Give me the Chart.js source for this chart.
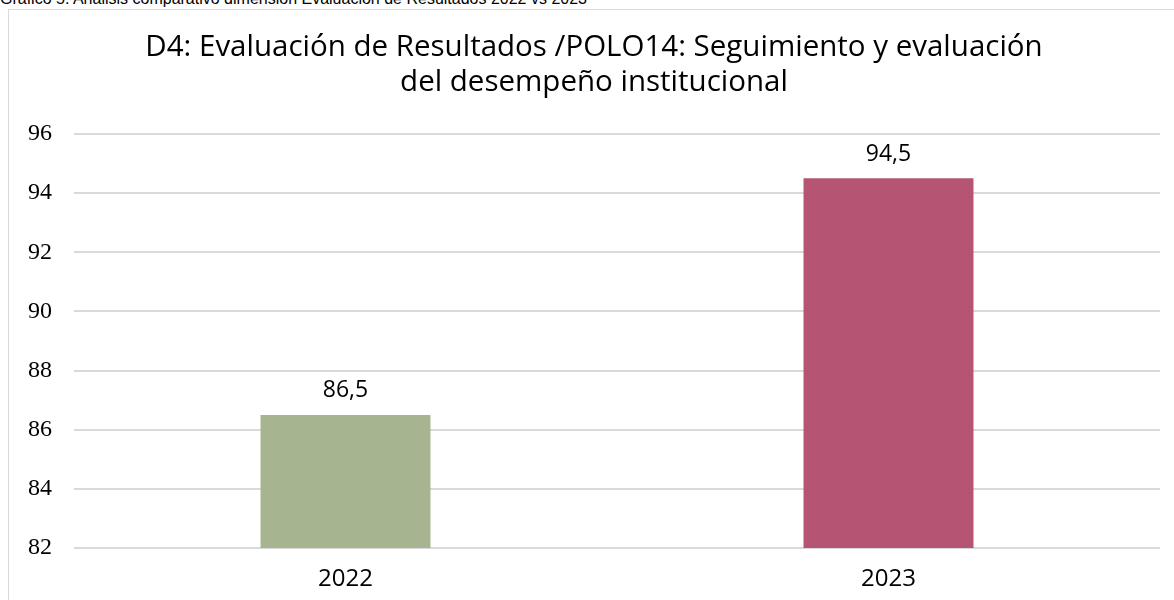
<!DOCTYPE html>
<html>
<head>
<meta charset="utf-8">
<script src="https://cdn.jsdelivr.net/npm/chart.js@4.4.1/dist/chart.umd.min.js"></script>
<style>
  html, body { margin: 0; padding: 0; background: #fff; overflow: hidden; }
  #caption {
    position: absolute; left: 0; top: -9px;
    font-family: "Liberation Sans", Arial, sans-serif; font-size: 16px; line-height: 16px;
    color: #000; white-space: nowrap;
  }
  #frame {
    position: absolute; left: 8px; top: 9px; width: 1180px; height: 620px;
    border: 1px solid #d9d9d9; box-sizing: border-box;
  }
  #wrap { position: absolute; left: 0; top: 0; width: 1174px; height: 600px; }
</style>
</head>
<body>
<div id="caption">Gráfico 5. Análisis comparativo dimensión Evaluación de Resultados 2022 vs 2023</div>
<div id="frame"></div>
<div id="wrap"><canvas id="c" width="1174" height="600"></canvas></div>
<script>
// Puntaje por año de la dimensión D4
const years = ['2022', '2023'];
const scores = [86.5, 94.5];
const barColors = ['#a6b490', '#b55573'];
const chartTitle = ['D4: Evaluación de Resultados /POLO14: Seguimiento y evaluación', 'del desempeño institucional'];
const yMin = 82, yMax = 96, yStep = 2;

// Etiqueta con el valor encima de cada barra (coma decimal)
const valueLabels = {
  id: 'valueLabels',
  afterDatasetsDraw(chart) {
    const ctx = chart.ctx;
    const meta = chart.getDatasetMeta(0);
    ctx.save();
    ctx.font = '23px "Open Sans", sans-serif';
    ctx.fillStyle = '#000';
    ctx.textAlign = 'center';
    ctx.textBaseline = 'middle';
    meta.data.forEach((bar, i) => {
      const txt = scores[i].toLocaleString('es-ES', { minimumFractionDigits: 1 });
      ctx.fillText(txt, bar.x, bar.y - 24);
    });
    ctx.restore();
  }
};

new Chart(document.getElementById('c'), {
  type: 'bar',
  data: {
    labels: years,
    datasets: [{
      data: scores,
      backgroundColor: barColors,
      categoryPercentage: 1,
      barPercentage: 0.313
    }]
  },
  options: {
    responsive: false,
    animation: false,
    layout: { padding: { top: 30, right: 14, bottom: 0, left: 28 } },
    plugins: {
      legend: { display: false },
      tooltip: { enabled: false },
      title: {
        display: true,
        text: chartTitle,
        color: '#000',
        font: { family: '"Open Sans", sans-serif', size: 29.5, weight: 'normal', lineHeight: 1.186 },
        padding: { top: 0, bottom: 34 }
      }
    },
    scales: {
      x: {
        afterFit(scale) { scale.height = 52; },
        grid: { display: false },
        border: { display: false },
        ticks: { color: '#000', font: { family: '"Open Sans", sans-serif', size: 24 }, padding: 9 }
      },
      y: {
        min: yMin, max: yMax,
        afterFit(scale) { scale.width = 46; },
        grid: { color: '#d9d9d9', lineWidth: 2, drawTicks: false },
        border: { display: false },
        ticks: {
          stepSize: yStep,
          color: '#000',
          padding: 22,
          font: { family: '"Liberation Serif", serif', size: 24 }
        }
      }
    }
  },
  plugins: [valueLabels]
});
</script>
</body>
</html>
